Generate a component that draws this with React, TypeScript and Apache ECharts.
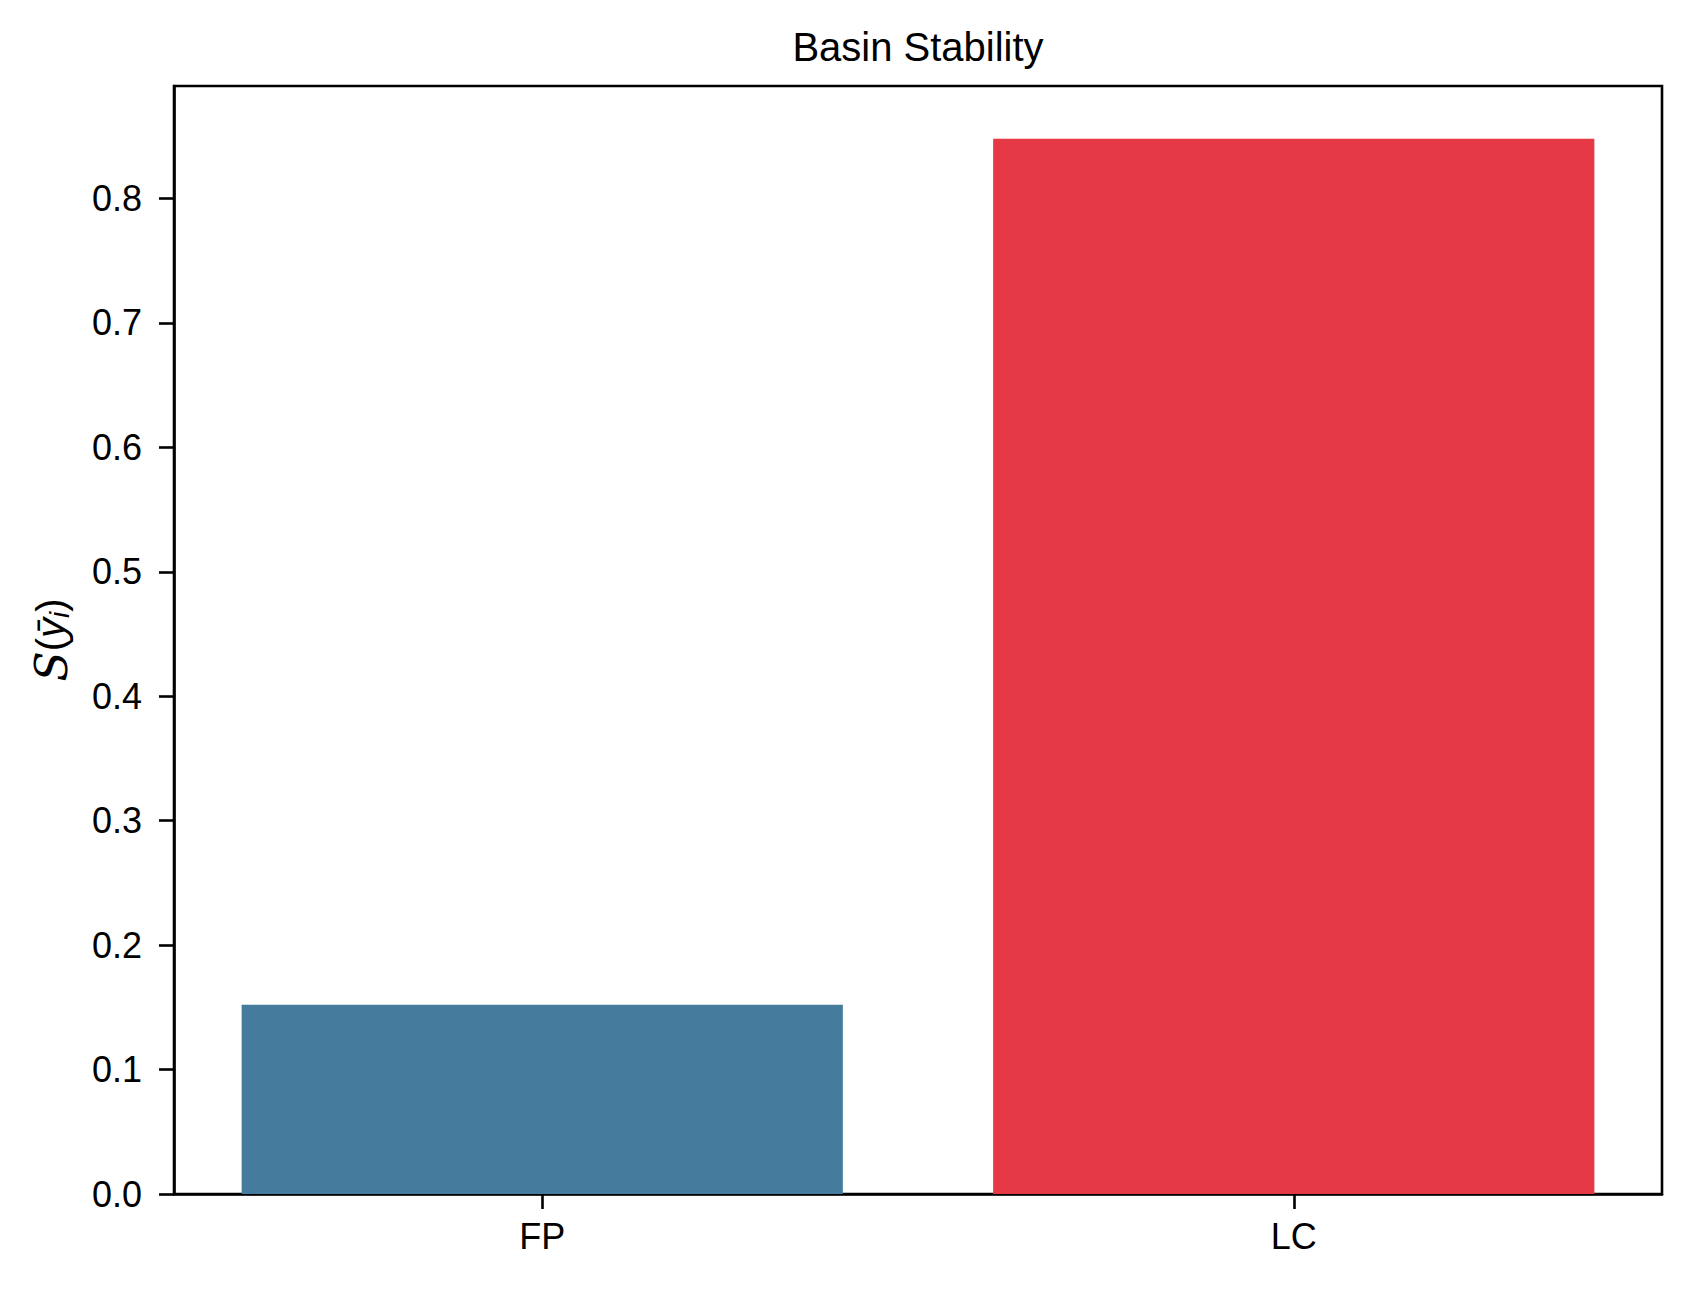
import React, { useEffect, useRef } from "react";
import * as echarts from "echarts";

const categories = ["FP", "LC"];
const values = [0.152, 0.848];
const barColors = ["#457B9D", "#E63946"];
const yTicks = [0, 0.1, 0.2, 0.3, 0.4, 0.5, 0.6, 0.7, 0.8];
const yMax = 0.8904;
const xMin = -0.49;
const xMax = 1.49;
const barRel = 0.8;
const titleText = "Basin Stability";

const FONT = "'Liberation Sans', Arial, Helvetica, sans-serif";

export default function App() {
  const ref = useRef<HTMLDivElement>(null);
  useEffect(() => {
    if (!ref.current) return;
    const chart = echarts.init(ref.current, null, { renderer: "svg" });
    const gridLeft = 174;
    const gridTop = 86;
    const gridW = 1488;
    const gridH = 1108;
    const xPositions = categories.map((_, i) => i);
    chart.setOption({
      animation: false,
      backgroundColor: "#ffffff",
      textStyle: { fontFamily: FONT },
      grid: {
        left: gridLeft,
        top: gridTop,
        width: gridW,
        height: gridH,
        show: true,
        borderColor: "#000",
        borderWidth: 2.6,
        backgroundColor: "transparent",
        containLabel: false,
      },
      xAxis: {
        type: "value",
        min: xMin,
        max: xMax,
        axisLine: { show: true, onZero: false, lineStyle: { color: "#000", width: 2.6 } },
        axisTick: { show: true, length: 15, customValues: xPositions, lineStyle: { color: "#000", width: 2.6 } },
        axisLabel: {
          color: "#000",
          fontSize: 36,
          fontFamily: FONT,
          margin: 24,
          customValues: xPositions,
          formatter: (v: number) => categories[Math.round(v)] ?? "",
        },
        splitLine: { show: false },
      },
      yAxis: {
        type: "value",
        min: 0,
        max: yMax,
        axisLine: { show: true, onZero: false, lineStyle: { color: "#000", width: 2.6 } },
        axisTick: { show: true, length: 15, customValues: yTicks, lineStyle: { color: "#000", width: 2.6 } },
        axisLabel: {
          color: "#000",
          fontSize: 36,
          fontFamily: FONT,
          margin: 32,
          customValues: yTicks,
          formatter: (v: number) => v.toFixed(1),
        },
        splitLine: { show: false },
      },
      graphic: [
        {
          type: "text",
          x: gridLeft + gridW / 2,
          y: 47,
          style: {
            text: titleText,
            fill: "#000",
            font: `40px ${FONT}`,
            textAlign: "center",
            textVerticalAlign: "middle",
          },
        },
        {
          type: "text",
          x: 51,
          y: gridTop + gridH / 2,
          rotation: Math.PI / 2,
          style: {
            text: "{s|S}{p|(}{y|ȳ}{i|i}{p|)}",
            textAlign: "center",
            textVerticalAlign: "middle",
            fill: "#000",
            rich: {
              s: { fontSize: 44, fontFamily: "'DejaVu Serif', serif", fontStyle: "italic", fill: "#000" },
              p: { fontSize: 40, fontFamily: FONT, fill: "#000" },
              y: { fontSize: 40, fontFamily: FONT, fontStyle: "italic", fill: "#000" },
              i: { fontSize: 28, fontFamily: FONT, fontStyle: "italic", fill: "#000", padding: [16, 0, 0, 0] },
            },
          },
        },
      ],
      series: [
        {
          type: "bar",
          barWidth: (barRel * gridW) / (xMax - xMin),
          data: values.map((v, i) => ({ value: [xPositions[i], v], itemStyle: { color: barColors[i] } })),
        },
      ],
    });
    return () => chart.dispose();
  }, []);
  return (
    <div
      ref={ref}
      style={{ position: "fixed", left: 0, top: 0, width: 1691, height: 1289, background: "#fff" }}
    />
  );
}
